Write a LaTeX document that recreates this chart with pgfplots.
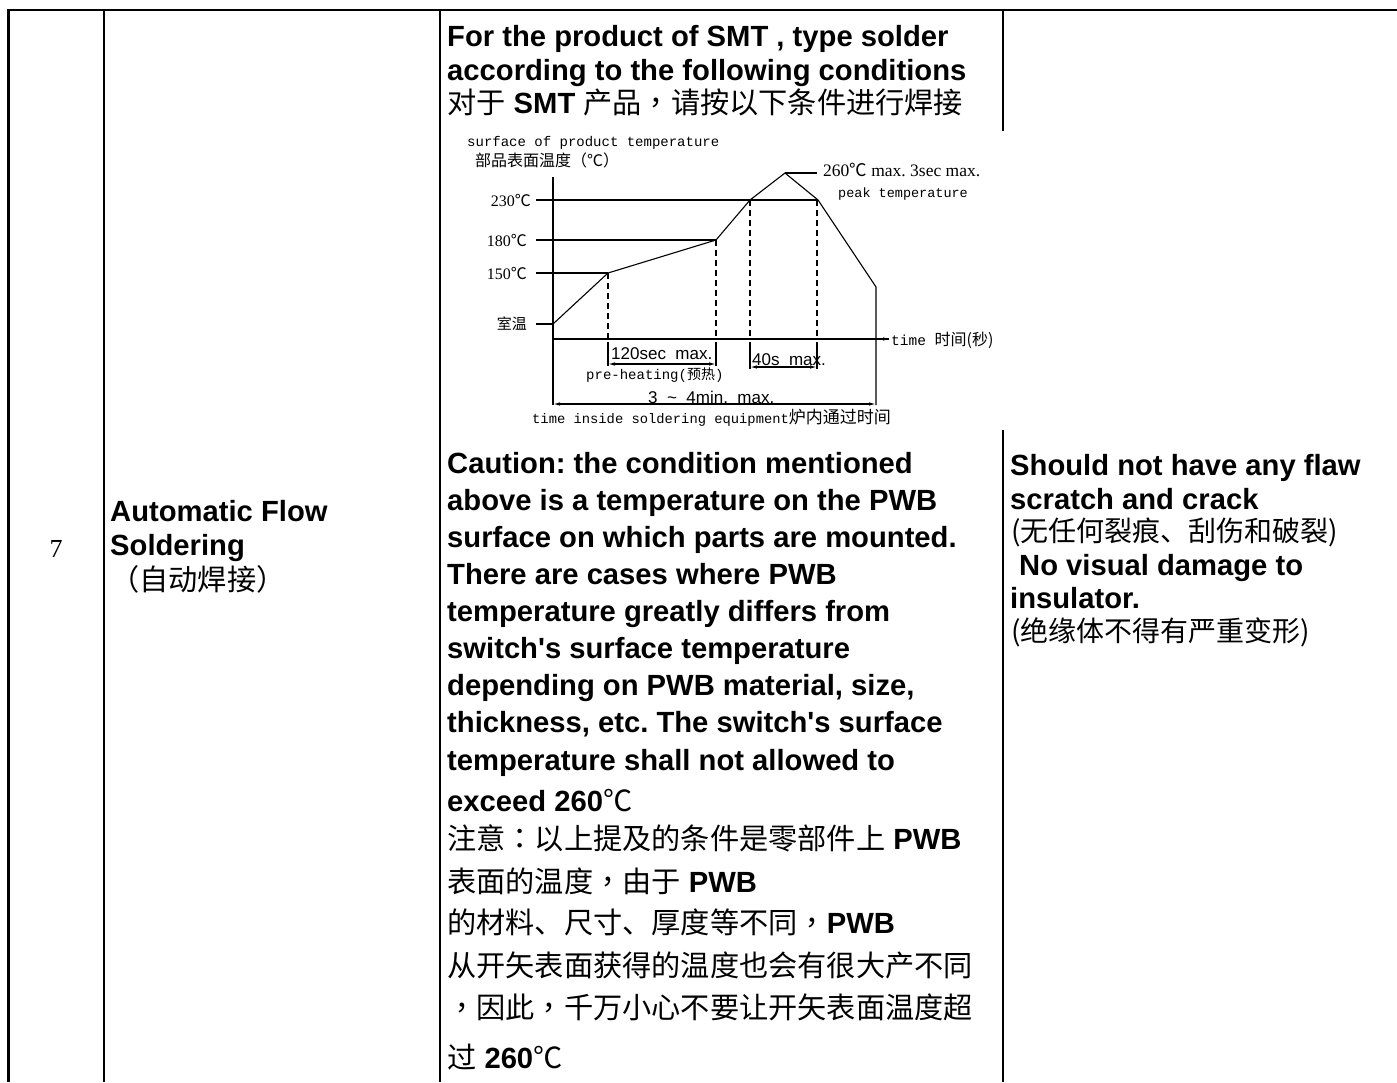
\documentclass[border=0pt]{standalone}
\usepackage{fontspec}
\usepackage{pgfplots}
\pgfplotsset{compat=1.18}
\usetikzlibrary{arrows.meta}
\setmainfont{Liberation Sans}
\newfontfamily\cjk{Noto Sans CJK SC}
\newfontfamily\cjkp{Noto Sans CJK TC}
\newfontfamily\tms{Liberation Serif}
\newfontfamily\cour{Liberation Mono}
\newcommand\C[1]{{\cjk\mdseries #1}}
\newcommand\Pn[1]{{\cjkp\mdseries #1}}
\newcommand\fs[1]{\fontsize{#1}{#1}\selectfont}
\frenchspacing

\begin{document}
\begin{tikzpicture}[x=1pt,y=-1pt,
  txt/.style={anchor=base west,inner sep=0pt,font=\fs{29.2}\bfseries},
  lab/.style={inner sep=0pt},
  dim/.style={line width=1.1pt,{Latex[length=7pt,width=3.5pt]}-{Latex[length=7pt,width=3.5pt]}}]
\path[use as bounding box] (0,0) rectangle (1397,1082);

% table rules
\draw[line width=1.5pt] (7,10) -- (1397,10);
\draw[line width=3pt] (8.5,9) -- (8.5,1082);
\draw[line width=1.2pt] (104,10) -- (104,1082);
\draw[line width=1.2pt] (440,10) -- (440,1082);
\draw[line width=1.2pt] (1003,10) -- (1003,131) (1003,430) -- (1003,1082);

% first two columns
\node[anchor=base,inner sep=0pt,font=\tms\fs{26}] at (56,557) {7};
\node[txt] at (110,521) {Automatic Flow};
\node[txt] at (110,555) {Soldering};
\node[txt] at (110,590) {\C{（自动焊接）}};

% third column, above the chart
\node[txt] at (447,46) {For the product of SMT , type solder};
\node[txt] at (447,80) {according to the following conditions};
\node[txt] at (447,113) {\C{对于} SMT \C{产品}\Pn{，}\C{请按以下条件进行焊接}};

% third column, below the chart
\node[txt] at (447,473) {Caution: the condition mentioned};
\node[txt] at (447,510) {above is a temperature on the PWB};
\node[txt] at (447,547) {surface on which parts are mounted.};
\node[txt] at (447,584) {There are cases where PWB};
\node[txt] at (447,621) {temperature greatly differs from};
\node[txt] at (447,658) {switch\textquotesingle s surface temperature};
\node[txt] at (447,695) {depending on PWB material, size,};
\node[txt] at (447,732) {thickness, etc. The switch\textquotesingle s surface};
\node[txt] at (447,770) {temperature shall not allowed to};
\node[txt] at (447,811) {exceed 260\C{℃}};
\node[txt] at (447,849) {\C{注意}\Pn{：}\C{以上提及的条件是零部件上} PWB};
\node[txt] at (447,892) {\C{表面的温度}\Pn{，}\C{由于} PWB};
\node[txt] at (447,933) {\C{的材料、尺寸、厚度等不同}\Pn{，}PWB};
\node[txt] at (447,976) {\C{从开矢表面获得的温度也会有很大产不同}};
\node[txt] at (447,1018) {\Pn{，}\C{因此}\Pn{，}\C{千万小心不要让开矢表面温度超}};
\node[txt] at (447,1068) {\C{过} 260\C{℃}};

% fourth column
\node[txt] at (1010,475) {Should not have any flaw};
\node[txt] at (1010,509) {scratch and crack};
\node[txt,font=\fs{28}] at (1011,541) {\C{(无任何裂痕、刮伤和破裂)}};
\node[txt] at (1019,575) {No visual damage to};
\node[txt] at (1010,608) {insulator.};
\node[txt,font=\fs{28}] at (1011,641) {\C{(绝缘体不得有严重变形)}};

% reflow profile
\begin{axis}[at={(553pt,-408pt)}, anchor=south west,
  x=1pt, y=1pt, xmin=0, xmax=340, ymin=-69, ymax=170,
  hide axis, clip=false,
  cycle list={{black,solid,mark=none}},
  every axis plot/.append style={line width=1.1pt}]
  % time and temperature axes
  \addplot coordinates {(0,-66) (0,162)};
  \addplot coordinates {(0,0) (336,0)};
  % profile
  \addplot coordinates {(0,15) (55,66) (163,99) (197,139) (232,166) (265,139) (323,52) (323,-66)};
  % temperature levels
  \addplot coordinates {(-17,15) (0,15)};
  \addplot coordinates {(-17,66) (55,66)};
  \addplot coordinates {(-17,99) (163,99)};
  \addplot coordinates {(-17,139) (265,139)};
  \addplot coordinates {(232,166) (264,166)};
  % time marks
  \addplot+[dash pattern=on 6pt off 4pt] coordinates {(55,66) (55,0)};
  \addplot+[dash pattern=on 6pt off 4pt] coordinates {(163,99) (163,0)};
  \addplot+[dash pattern=on 6pt off 4pt] coordinates {(197,139) (197,0)};
  \addplot+[dash pattern=on 6pt off 4pt] coordinates {(264,139) (264,0)};
  \addplot coordinates {(55,-3) (55,-27)};
  \addplot coordinates {(163,-3) (163,-27)};
  \addplot coordinates {(197,-3) (197,-30)};
  \addplot coordinates {(264,-3) (264,-30)};
  \draw[line width=1.1pt,-{Latex[length=7pt,width=3.5pt]}] (axis cs:330,0) -- (axis cs:337,0);
  \draw[dim] (axis cs:55,-25) -- (axis cs:163,-25);
  \draw[dim] (axis cs:197,-28) -- (axis cs:264,-28);
  \draw[dim] (axis cs:0,-65) -- (axis cs:323,-65);

  \node[lab,anchor=west,font=\cour\fs{14}] at (axis cs:-86,196) {surface of product temperature};
  \node[lab,anchor=west,font=\cjk\fs{16}] at (axis cs:-78,179) {部品表面温度（℃）};
  \node[lab,anchor=west,font=\tms\fs{17.5}] at (axis cs:270,169) {260\C{℃} max. 3sec max.};
  \node[lab,anchor=west,font=\cour\fs{13.5}] at (axis cs:285,145) {peak temperature};
  \node[lab,anchor=east,font=\tms\fs{16}] at (axis cs:-22,139) {230\C{℃}};
  \node[lab,anchor=east,font=\tms\fs{16}] at (axis cs:-26,99) {180\C{℃}};
  \node[lab,anchor=east,font=\tms\fs{16}] at (axis cs:-26,66) {150\C{℃}};
  \node[lab,anchor=east,font=\cjk\fs{15}] at (axis cs:-26,15) {室温};
  \node[lab,anchor=west,font=\cour\fs{14.5}] at (axis cs:338,-1) {time \C{\fs{16}时间(秒)}};
  \node[lab,anchor=west,font=\fs{17}] at (axis cs:58,-15) {120sec\ \ max.};
  \node[lab,anchor=west,font=\cour\fs{14}] at (axis cs:33,-36) {pre-heating(\C{预热})};
  \node[lab,anchor=west,font=\fs{17}] at (axis cs:199,-21) {40s\ \ max.};
  \node[lab,anchor=west,font=\fs{17}] at (axis cs:95,-58) {3\ \ \textasciitilde\ \ 4min.\ \ max.};
  \node[lab,anchor=west,font=\cour\fs{13.8}] at (axis cs:-21,-79) {time inside soldering equipment\C{\fs{17}炉内通过时间}};
\end{axis}
\end{tikzpicture}
\end{document}
